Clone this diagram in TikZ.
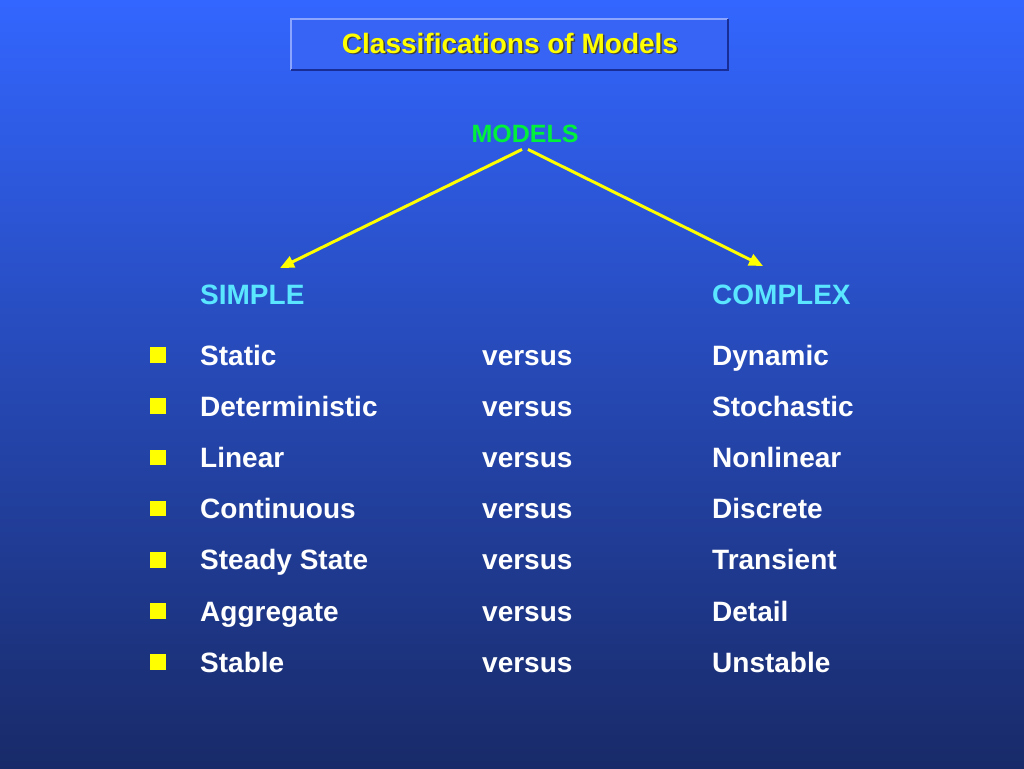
\documentclass[tikz,border=0pt]{standalone}
\usepackage{fontspec}
\setmainfont{Liberation Sans}
\usepackage{tikz}
\usetikzlibrary{arrows.meta, positioning}
\definecolor{bgtop}{RGB}{51,102,255}
\definecolor{bgbot}{RGB}{24,42,104}
\definecolor{myyellow}{RGB}{255,255,0}
\definecolor{mygreen}{RGB}{0,240,60}
\definecolor{mycyan}{RGB}{90,230,255}
\definecolor{boxlight}{RGB}{140,165,255}
\definecolor{boxdark}{RGB}{25,45,150}
\definecolor{boxfill}{RGB}{55,100,245}
\tikzset{
  titlebox/.style={rectangle, fill=boxfill, minimum width=437pt,
    minimum height=51pt, inner sep=0pt},
  titletext/.style={font=\fontsize{28}{32}\selectfont\bfseries,
    text=myyellow, anchor=base, inner sep=0pt},
  heading/.style={font=\fontsize{28}{32}\selectfont\bfseries,
    text=mycyan, anchor=base west, inner sep=0pt},
  item/.style={font=\fontsize{28}{32}\selectfont\bfseries,
    text=white, anchor=base west, inner sep=0pt},
  bullet/.style={rectangle, fill=myyellow, minimum size=15.5pt,
    inner sep=0pt},
  yarrow/.style={-{Triangle[length=14pt, width=12pt]},
    line width=3pt, color=myyellow}
}

\begin{document}
\begin{tikzpicture}[x=1pt, y=-1pt]
  \useasboundingbox (0,0) rectangle (1024,768);
  % Background
  \fill[top color=bgtop, bottom color=bgbot] (0,0) rectangle (1024,768);

  % Title
  \node[titlebox] (title) at (509.5,44.5) {};
  \draw[boxlight, line width=2pt] (title.south west) -- (title.north west) -- (title.north east);
  \draw[boxdark, line width=2pt] (title.north east) -- (title.south east) -- (title.south west);
  \node[titletext, text=black!75] at (511.5,55) {Classifications of Models};
  \node[titletext] (titletxt) at (510,53) {Classifications of Models};

  % Root
  \node[font=\fontsize{25}{30}\selectfont\bfseries, text=mygreen, anchor=base, inner sep=0pt] (models) at (525,142) {MODELS};
  \coordinate (ltip) at (280,268);
  \coordinate (rtip) at (763,266);
  \draw[yarrow] ([shift={(-3,7)}]models.south) -- (ltip);
  \draw[yarrow] ([shift={(3,7)}]models.south) -- (rtip);

  % Headings
  \node[heading] (simple) at (200,304) {SIMPLE};
  \node[heading] (complex) at (712,304) {COMPLEX};

  % Rows
  \foreach \i/\a/\b in {1/Static/Dynamic, 2/Deterministic/Stochastic,
      3/Linear/Nonlinear, 4/Continuous/Discrete, 5/Steady State/Transient,
      6/Aggregate/Detail, 7/Stable/Unstable} {
    \node[bullet] (b\i) at (158,{303.8+51.2*\i}) {};
    \node[item] (s\i) at (200,{313.8+51.2*\i}) {\a};
    \node[item] (v\i) at (482,{313.8+51.2*\i}) {versus};
    \node[item] (c\i) at (712,{313.8+51.2*\i}) {\b};
  }
\end{tikzpicture}
\end{document}
